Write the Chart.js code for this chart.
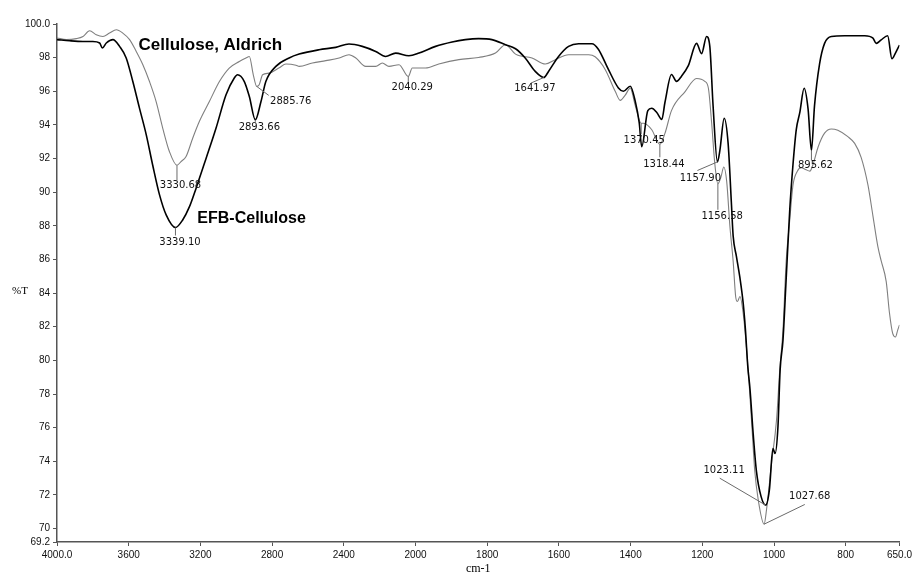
<!DOCTYPE html>
<html>
<head>
<meta charset="utf-8">
<script src="https://cdn.jsdelivr.net/npm/chart.js@4.4.1/dist/chart.umd.min.js"></script>
<style>
  html, body { margin: 0; padding: 0; background: #fff; }
  #wrap { width: 915px; height: 575px; position: relative; }
</style>
</head>
<body>
<div id="wrap"><canvas id="ftir" width="915" height="575"></canvas></div>
<script>
// ---- axis ticks ----
const xTickWavenumbers = [4000, 3600, 3200, 2800, 2400, 2000, 1800, 1600, 1400, 1200, 1000, 800, 650];
const xTickLabels = ['4000.0', '3600', '3200', '2800', '2400', '2000', '1800', '1600', '1400', '1200', '1000', '800', '650.0'];
const yTickValues = [69.2, 70, 72, 74, 76, 78, 80, 82, 84, 86, 88, 90, 92, 94, 96, 98, 100];
const yTickLabels = ['69.2', '70', '72', '74', '76', '78', '80', '82', '84', '86', '88', '90', '92', '94', '96', '98', '100.0'];

// ---- series: [wavenumber cm-1, %T] ----
const seriesNames = ['EFB-Cellulose', 'Cellulose, Aldrich'];

const efbSpectrum = [
  [4000, 99.07], [3929, 99.0], [3855, 98.96], [3800, 98.96], [3762, 98.87], [3747, 98.57], [3725, 98.87],
  [3688, 99.07], [3651, 98.67], [3614, 97.98], [3577, 96.58], [3540, 95.0], [3502, 93.41], [3466, 91.6],
  [3428, 89.84], [3391, 88.65], [3339.10, 87.9], [3299, 88.35], [3261, 89.14], [3224, 90.24], [3168, 92.02],
  [3113, 93.8], [3057, 95.79], [3011, 96.79], [2993, 96.98], [2955, 96.58], [2927, 95.69], [2893.66, 94.3],
  [2862, 95.39], [2835, 96.58], [2779, 97.48], [2705, 97.98], [2649, 98.21], [2538, 98.47], [2445, 98.61],
  [2371, 98.81], [2297, 98.67], [2222, 98.37], [2167, 98.07], [2111, 98.27], [2037, 98.11], [1990, 98.27],
  [1944, 98.67], [1898, 98.93], [1861, 99.07], [1824, 99.13], [1787, 99.07], [1749, 98.77], [1721, 98.53],
  [1694, 97.98], [1666, 97.18], [1641.97, 96.82], [1629, 97.18], [1601, 98.07], [1573, 98.67], [1545, 98.83],
  [1508, 98.83], [1490, 98.5], [1462, 97.3], [1434, 96.2], [1420, 96.0], [1401, 96.3], [1387, 95.4],
  [1376, 94.13], [1369, 92.7], [1352, 94.85], [1341, 94.99], [1327, 94.74], [1313, 94.33], [1304, 95.36],
  [1286, 97.0], [1272, 96.59], [1258, 96.9], [1239, 97.52], [1216, 98.85], [1202, 98.24], [1188, 99.26],
  [1179, 98.65], [1170, 95.15], [1157.90, 91.8], [1151, 92.48], [1139, 94.4], [1128, 92.9], [1119, 89.4],
  [1114, 87.4], [1105, 86.2], [1095, 84.9], [1086, 83.4], [1080, 81.9], [1073, 79.6], [1067, 78.3],
  [1058, 75.6], [1049, 73.4], [1036, 71.9], [1023.11, 71.39], [1013, 72.28], [1003, 74.76], [997, 74.46],
  [989, 76.05], [983, 79.42], [975, 81.2], [966, 84.88], [956, 88.99], [947, 91.66], [938, 93.71],
  [928, 94.74], [916, 96.18], [905, 94.95], [895.62, 92.48], [887, 95.15], [873, 97.62], [859, 98.85],
  [840, 99.26], [803, 99.3], [747, 99.3], [724, 99.16], [715, 98.85], [701, 99.06], [683, 99.3],
  [671, 97.93], [662, 98.24], [650, 98.75]
];

const aldrichSpectrum = [
  [4000, 99.17], [3948, 99.07], [3892, 99.13], [3855, 99.26], [3818, 99.6], [3781, 99.36], [3744, 99.26],
  [3707, 99.46], [3669, 99.66], [3633, 99.46], [3595, 99.07], [3558, 98.37], [3521, 97.58], [3484, 96.58],
  [3447, 95.39], [3410, 93.8], [3373, 92.42], [3330.68, 91.6], [3308, 91.82], [3280, 92.12], [3243, 93.21],
  [3206, 94.2], [3150, 95.39], [3094, 96.58], [3039, 97.38], [2983, 97.77], [2946, 97.98], [2927, 98.07],
  [2905, 96.98], [2885.76, 96.29], [2872, 96.39], [2853, 96.98], [2816, 97.08], [2760, 97.4], [2723, 97.62],
  [2667, 97.55], [2649, 97.48], [2575, 97.68], [2500, 97.82], [2426, 97.98], [2371, 98.17], [2333, 97.98],
  [2278, 97.48], [2222, 97.48], [2185, 97.68], [2148, 97.48], [2092, 97.58], [2040.29, 96.88], [2018, 97.38],
  [1972, 97.38], [1935, 97.62], [1879, 97.88], [1824, 98.01], [1777, 98.27], [1749, 98.77], [1721, 98.21],
  [1675, 97.98], [1638, 97.62], [1610, 97.88], [1573, 98.17], [1517, 98.17], [1499, 98.05], [1471, 97.3],
  [1443, 96.0], [1429, 95.46], [1415, 95.77], [1401, 96.18], [1387, 95.15], [1370.45, 94.1], [1364, 94.1],
  [1341, 93.71], [1318.44, 92.85], [1304, 93.51], [1286, 94.85], [1248, 95.98], [1216, 96.76], [1193, 96.59],
  [1183, 96.18], [1174, 94.13], [1165, 91.66], [1156.58, 90.5], [1148, 90.9], [1140, 91.5], [1132, 90.64],
  [1123, 87.96], [1114, 85.9], [1107, 83.8], [1102, 83.5], [1095, 83.8], [1086, 82.8], [1077, 80.8],
  [1070, 78.8], [1060, 75.5], [1054, 73.5], [1044, 71.7], [1027.68, 70.26], [1021, 71.1], [1007, 73.87],
  [993, 76.45], [984, 79.42], [975, 81.8], [966, 85.91], [956, 88.37], [947, 90.43], [935, 91.25],
  [924, 91.46], [912, 91.35], [900, 91.25], [891, 91.66], [877, 92.69], [859, 93.51], [840, 93.76],
  [822, 93.68], [794, 93.3], [775, 92.9], [757, 92.07], [738, 90.43], [724, 88.58], [710, 86.73],
  [701, 85.91], [687, 84.68], [678, 82.83], [669, 81.6], [661, 81.39], [655, 81.8], [650, 82.11]
];

// labelled band positions (cm-1)
const efbPeaks = [3339.10, 2893.66, 1641.97, 1157.90, 1023.11, 895.62];
const aldrichPeaks = [3330.68, 2885.76, 2040.29, 1370.45, 1318.44, 1156.58, 1027.68];

// ---- layout / style ----
// callout geometry in px relative to the band point: lead = leader end, text = label centre
const calloutOffsets = {
  '3339.10': { lead: [0, 8], text: [4.5, 14.5] },
  '2893.66': { lead: [0, 2], text: [4, 7.5] },
  '1641.97': { lead: [-13, 5.6], text: [-9, 11.3] },
  '1157.90': { lead: [-20, 8.6], text: [-17, 16] },
  '1023.11': { lead: [-46, -27], text: [-41.6, -35] },
  '895.62':  { lead: [0, 10], text: [4, 15] },
  '3330.68': { lead: [0, 15], text: [3.5, 20.5] },
  '2885.76': { lead: [12, 9], text: [34, 15] },
  '2040.29': { lead: [0, 5.5], text: [4, 10.7] },
  '1370.45': { lead: [0, 11], text: [3, 17] },
  '1318.44': { lead: [0, 13], text: [4, 20.5] },
  '1156.58': { lead: [0, 26], text: [4.3, 32.7] },
  '1027.68': { lead: [40.7, -19.7], text: [45.7, -27.6] }
};
// series name placement in data units (left edge, vertical centre)
const nameAnchors = [
  { wn: 3217, t: 88.45, size: 16 },
  { wn: 3545, t: 98.72, size: 17 }
];
const seriesColors = ['#000000', '#7f7f7f'];
const seriesWidths = [1.6, 1.1];

// The wavenumber axis is expanded 2x below 2000 cm-1: map to a piecewise-linear axis unit.
function toAxis(wn) {
  return wn >= 2000 ? (4000 - wn) / 400 : 5 + (2000 - wn) / 200;
}

const spectra = [efbSpectrum, aldrichSpectrum];
const peakSets = [efbPeaks, aldrichPeaks];

const spectrumAnnotations = {
  id: 'spectrumAnnotations',
  afterDatasetsDraw(chart) {
    const { ctx, scales: { x, y } } = chart;
    ctx.save();
    // peak callouts
    peakSets.forEach((peaks, s) => {
      peaks.forEach(wn => {
        const pt = spectra[s].find(p => p[0] === wn);
        const px = x.getPixelForValue(toAxis(pt[0]));
        const py = y.getPixelForValue(pt[1]);
        const key = wn.toFixed(2);
        const off = calloutOffsets[key];
        ctx.strokeStyle = '#6a6a6a';
        ctx.lineWidth = 1;
        ctx.beginPath();
        ctx.moveTo(px, py);
        ctx.lineTo(px + off.lead[0], py + off.lead[1]);
        ctx.stroke();
        ctx.fillStyle = '#111';
        ctx.font = '10px "DejaVu Sans"';
        ctx.textAlign = 'center';
        ctx.textBaseline = 'middle';
        ctx.fillText(key, px + off.text[0], py + off.text[1]);
      });
    });
    // series names
    nameAnchors.forEach((a, s) => {
      ctx.fillStyle = '#000';
      ctx.font = 'bold ' + a.size + 'px "Liberation Sans"';
      ctx.textAlign = 'left';
      ctx.textBaseline = 'middle';
      ctx.fillText(seriesNames[s], x.getPixelForValue(toAxis(a.wn)), y.getPixelForValue(a.t));
    });
    // y axis caption, written horizontally beside the 84 tick
    ctx.fillStyle = '#000';
    ctx.font = '11px "Liberation Serif"';
    ctx.textAlign = 'left';
    ctx.textBaseline = 'middle';
    ctx.fillText('%T', 12, y.getPixelForValue(84) - 2);
    ctx.restore();
  }
};

const tickFont = { family: '"Liberation Sans", Arial, sans-serif', size: 10 };

new Chart(document.getElementById('ftir'), {
  type: 'line',
  data: {
    datasets: spectra.map((sp, i) => ({
      label: seriesNames[i],
      data: sp.map(p => ({ x: toAxis(p[0]), y: p[1] })),
      borderColor: seriesColors[i],
      borderWidth: seriesWidths[i],
      pointRadius: 0,
      fill: false,
      cubicInterpolationMode: 'monotone'
    }))
  },
  options: {
    responsive: false,
    animation: false,
    devicePixelRatio: 1,
    layout: { padding: { left: 0, right: 13, top: 24, bottom: 0 } },
    plugins: { legend: { display: false }, tooltip: { enabled: false } },
    scales: {
      x: {
        type: 'linear',
        min: toAxis(4000),
        max: toAxis(650),
        afterBuildTicks: s => { s.ticks = xTickWavenumbers.map(w => ({ value: toAxis(w) })); },
        afterFit: s => { s.height = 33; },
        ticks: {
          autoSkip: false, maxRotation: 0, minRotation: 0, padding: 3,
          color: '#111', font: tickFont,
          callback: (v, i) => xTickLabels[i]
        },
        grid: { drawOnChartArea: false, drawTicks: true, tickLength: 4, color: '#555', tickWidth: 1 },
        border: { display: true, color: '#555', width: 1.5 },
        title: {
          display: true, text: 'cm-1', color: '#000',
          font: { family: '"Liberation Serif", serif', size: 12, lineHeight: 1 },
          padding: 0
        }
      },
      y: {
        type: 'linear',
        min: 69.2,
        max: 100,
        afterBuildTicks: s => { s.ticks = yTickValues.map(v => ({ value: v })); },
        afterFit: s => { s.width = 57; },
        ticks: {
          autoSkip: false, padding: 3, color: '#111', font: tickFont,
          callback: (v, i) => yTickLabels[i]
        },
        grid: { drawOnChartArea: false, drawTicks: true, tickLength: 4, color: '#555', tickWidth: 1 },
        border: { display: true, color: '#555', width: 1.5 }
      }
    }
  },
  plugins: [spectrumAnnotations]
});
</script>
</body>
</html>
